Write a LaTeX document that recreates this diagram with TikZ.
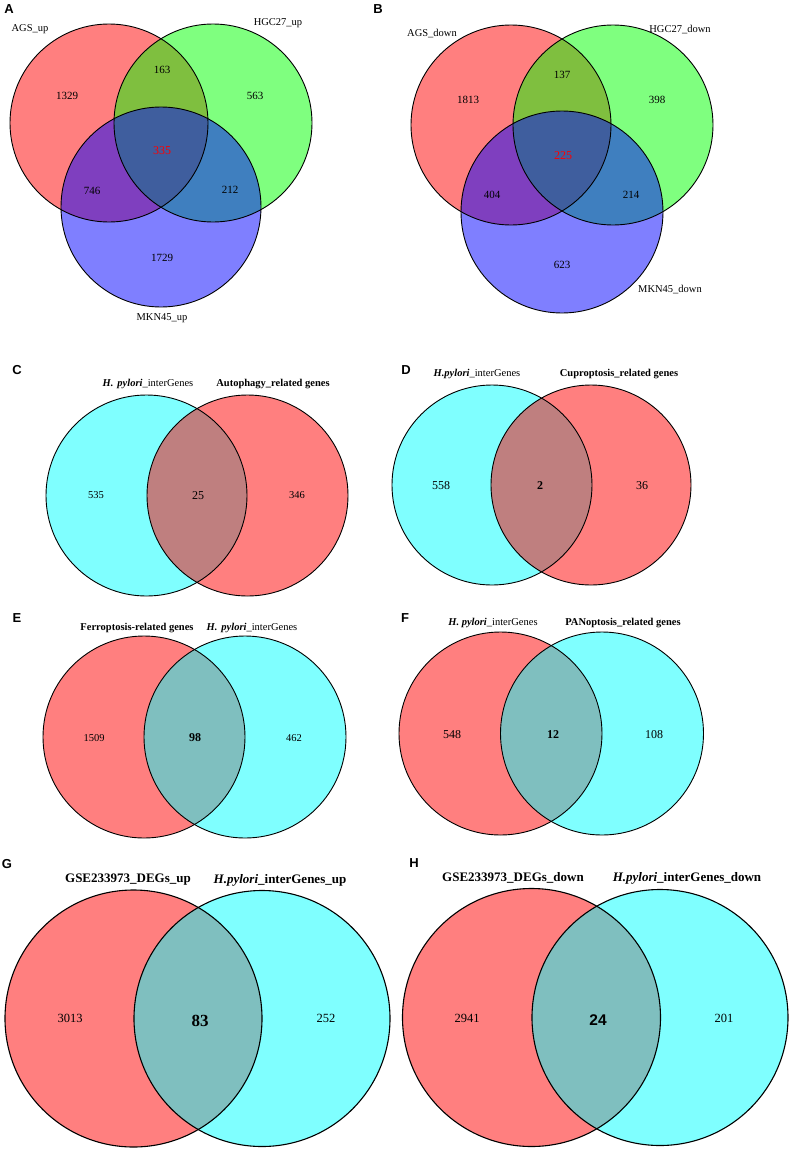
\documentclass[tikz,border=0pt]{standalone}
\usepackage{fontspec}
\setmainfont{Liberation Serif}
\setsansfont{Liberation Sans}
\usepackage{xcolor}
\definecolor{setred}{RGB}{255,0,0}
\definecolor{setgreen}{RGB}{0,255,0}
\definecolor{setblue}{RGB}{0,0,255}
\definecolor{setcyan}{RGB}{0,255,255}

\begin{document}
\begin{tikzpicture}[x=1pt, y=-1pt,
  fillset/.style={fill=#1, fill opacity=0.5},
  ring/.style={draw=black, line width=#1},
  ring/.default=0.9pt,
  tag/.style={font=\fontsize{13}{14}\selectfont\sffamily\bfseries, inner sep=0pt},
  lbl/.style={font=\fontsize{10.5}{12}\selectfont, inner sep=0pt},
  hd/.style={font=\fontsize{10.5}{12}\selectfont, inner sep=0pt},
  bhd/.style={font=\fontsize{10.5}{12}\selectfont\bfseries, inner sep=0pt},
  bighd/.style={font=\fontsize{13}{15}\selectfont\bfseries, inner sep=0pt},
  num/.style={font=\fontsize{#1}{14}\selectfont, inner sep=0pt},
  num/.default=11,
  bnum/.style={font=\fontsize{#1}{18}\selectfont\bfseries, inner sep=0pt},
  core/.style={font=\fontsize{12}{14}\selectfont, text=setred, inner sep=0pt}
]
  \useasboundingbox (0,0) rectangle (791,1149);

  % A
  \coordinate (a1) at (109,123);
  \coordinate (a2) at (213,123);
  \coordinate (a3) at (161,207);
  \fill[fillset=setred] (a1) circle[radius=99pt];
  \fill[fillset=setgreen] (a2) circle[radius=99pt];
  \fill[fillset=setblue] (a3) circle[radius=100pt];
  \foreach \c/\r in {a1/99,a2/99,a3/100} \draw[ring] (\c) circle[radius=\r pt];
  \node[tag] (ta) at (9,9) {A};
  \node[lbl] (la1) at (30,29) {AGS\_up};
  \node[lbl] (la2) at (278,23) {HGC27\_up};
  \node[lbl] (la3) at (162,318) {MKN45\_up};
  \node[num] (na1) at (67,96) {1329};
  \node[num] (na12) at (162,70) {163};
  \node[num] (na2) at (255,96) {563};
  \node[core] (na123) at (162,151) {335};
  \node[num] (na13) at (92,191) {746};
  \node[num] (na23) at (230,190) {212};
  \node[num] (na3) at (162,258) {1729};

  % B
  \coordinate (b1) at (511,125);
  \coordinate (b2) at (613,125);
  \coordinate (b3) at (562,212);
  \fill[fillset=setred] (b1) circle[radius=100pt];
  \fill[fillset=setgreen] (b2) circle[radius=100pt];
  \fill[fillset=setblue] (b3) circle[radius=101pt];
  \foreach \c/\r in {b1/100,b2/100,b3/101} \draw[ring] (\c) circle[radius=\r pt];
  \node[tag] (tb) at (378,9) {B};
  \node[lbl] (lb1) at (432,34) {AGS\_down};
  \node[lbl] (lb2) at (680,30) {HGC27\_down};
  \node[lbl] (lb3) at (670,290) {MKN45\_down};
  \node[num] (nb1) at (468,100) {1813};
  \node[num] (nb12) at (562,75) {137};
  \node[num] (nb2) at (657,100) {398};
  \node[core] (nb123) at (563,156) {225};
  \node[num] (nb13) at (492,195) {404};
  \node[num] (nb23) at (631,195) {214};
  \node[num] (nb3) at (562,265) {623};

  % C
  \coordinate (c1) at (146.5,495.5);
  \coordinate (c2) at (247.5,495.5);
  \fill[fillset=setcyan] (c1) circle[radius=100.5pt];
  \fill[fillset=setred] (c2) circle[radius=100.5pt];
  \foreach \c in {c1,c2} \draw[ring] (\c) circle[radius=100.5pt];
  \node[tag] (tc) at (17,370) {C};
  \node[hd] (lc1) at (148,384) {\textbf{\textit{H.}}\hspace{4pt}\textbf{\textit{pylori}}\_interGenes};
  \node[bhd] (lc2) at (273,384) {Autophagy\_related genes};
  \node[num=10.5] (nc1) at (96,495) {535};
  \node[num=12] (nc12) at (198,496) {25};
  \node[num=10.5] (nc2) at (297,495) {346};

  % D
  \coordinate (d1) at (492,485);
  \coordinate (d2) at (591,485);
  \fill[fillset=setcyan] (d1) circle[radius=100pt];
  \fill[fillset=setred] (d2) circle[radius=100pt];
  \foreach \c in {d1,d2} \draw[ring] (\c) circle[radius=100pt];
  \node[tag] (td) at (406,370) {D};
  \node[hd] (ld1) at (477,374) {\textbf{\textit{H.pylori}}\_interGenes};
  \node[bhd] (ld2) at (619,374) {Cuproptosis\_related genes};
  \node[num=12] (nd1) at (441,486) {558};
  \node[bnum=12] (nd12) at (540,486) {2};
  \node[num=12] (nd2) at (642,486) {36};

  % E
  \coordinate (e1) at (144,737);
  \coordinate (e2) at (245,737);
  \fill[fillset=setred] (e1) circle[radius=101pt];
  \fill[fillset=setcyan] (e2) circle[radius=101pt];
  \foreach \c in {e1,e2} \draw[ring] (\c) circle[radius=101pt];
  \node[tag] (te) at (17,618) {E};
  \node[bhd] (le1) at (137,628) {Ferroptosis-related genes};
  \node[hd] (le2) at (252,628) {\textbf{\textit{H.}}\hspace{4pt}\textbf{\textit{pylori}}\_interGenes};
  \node[num=10.5] (ne1) at (94,738) {1509};
  \node[bnum=12] (ne12) at (195,738) {98};
  \node[num=10.5] (ne2) at (294,738) {462};

  % F
  \coordinate (f1) at (500.5,733.5);
  \coordinate (f2) at (602,733.5);
  \fill[fillset=setred] (f1) circle[radius=101.5pt];
  \fill[fillset=setcyan] (f2) circle[radius=101.5pt];
  \foreach \c in {f1,f2} \draw[ring] (\c) circle[radius=101.5pt];
  \node[tag] (tf) at (405,618) {F};
  \node[hd] (lf1) at (493,623) {\textbf{\textit{H. pylori}}\_interGenes};
  \node[bhd] (lf2) at (623,623) {PANoptosis\_related genes};
  \node[num=12] (nf1) at (452,735) {548};
  \node[bnum=12] (nf12) at (553,735) {12};
  \node[num=12] (nf2) at (654,735) {108};

  % G
  \coordinate (g1) at (133.5,1018.5);
  \coordinate (g2) at (262,1018.5);
  \fill[fillset=setred] (g1) circle[radius=128.5pt];
  \fill[fillset=setcyan] (g2) circle[radius=128pt];
  \foreach \c/\r in {g1/128.5,g2/128} \draw[ring=1.1pt] (\c) circle[radius=\r pt];
  \node[tag] (tg) at (7,864) {G};
  \node[bighd] (lg1) at (128,880) {GSE233973\_DEGs\_up};
  \node[bighd] (lg2) at (280,880) {\textit{H.pylori}\_interGenes\_up};
  \node[num=12.5] (ng1) at (70,1018) {3013};
  \node[bnum=17] (ng12) at (200,1021) {83};
  \node[num=12.5] (ng2) at (326,1018) {252};

  % H
  \coordinate (h1) at (531.5,1017.5);
  \coordinate (h2) at (660,1017.5);
  \fill[fillset=setred] (h1) circle[radius=129pt];
  \fill[fillset=setcyan] (h2) circle[radius=128pt];
  \foreach \c/\r in {h1/129,h2/128} \draw[ring=1.1pt] (\c) circle[radius=\r pt];
  \node[tag] (th) at (414,863) {H};
  \node[bighd] (lh1) at (513,878) {GSE233973\_DEGs\_down};
  \node[bighd] (lh2) at (687,878) {\textit{H.pylori}\_interGenes\_down};
  \node[num=12.5] (nh1) at (467,1018) {2941};
  \node[bnum=15.5, font=\fontsize{15.5}{18}\selectfont\sffamily\bfseries] (nh12) at (598,1020) {24};
  \node[num=12.5] (nh2) at (724,1018) {201};
\end{tikzpicture}
\end{document}
